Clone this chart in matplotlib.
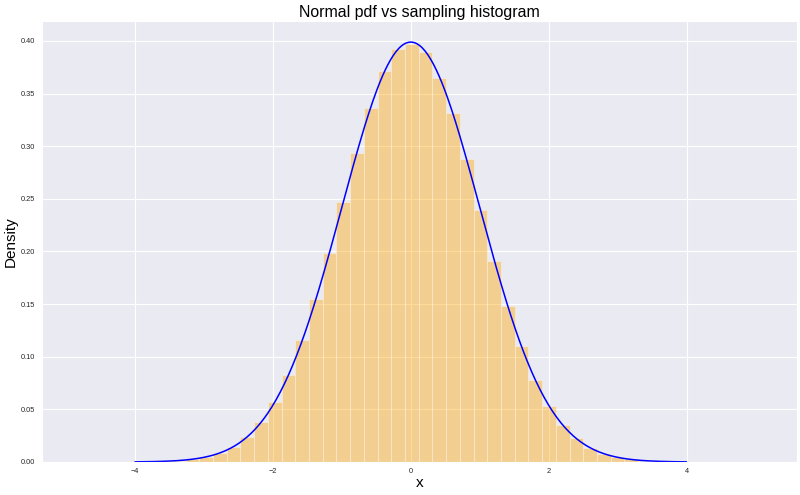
import numpy as np
import matplotlib
matplotlib.use("Agg")
import matplotlib.pyplot as plt
import seaborn as sns

# Histogram (density): 50 bins over the sample range
bin_lo = -4.86
bin_hi = 5.09
heights = [
    0.000005, 0.000012, 0.00003, 0.00007, 0.00015, 0.00033, 0.0007, 0.0014,
    0.0026, 0.0050, 0.0088, 0.0146, 0.0240, 0.0382, 0.0570, 0.0827,
    0.1160, 0.1550, 0.1990, 0.2468, 0.2940, 0.3366, 0.3712, 0.3924,
    0.3975, 0.3892, 0.3652, 0.3320, 0.2880, 0.2393, 0.1912, 0.1485,
    0.1098, 0.0780, 0.0536, 0.0352, 0.0228, 0.0136, 0.0079, 0.0044,
    0.0024, 0.0012, 0.0006, 0.0003, 0.00014, 0.00006, 0.000026, 0.00001,
    0.000004, 0.0000016,
]
# Normal pdf curve range
pdf_lo, pdf_hi = -4.0, 4.0
mu, sigma = 0.0, 1.0

sns.set_style("darkgrid")
plt.rcParams['font.family'] = ['Liberation Sans', 'DejaVu Sans']

fig = plt.figure(figsize=(8, 4.95), dpi=100)
ax = fig.add_axes([0.0525, 0.0667, 0.9435, 0.8909])

edges = np.linspace(bin_lo, bin_hi, len(heights) + 1)
ax.bar(edges[:-1], heights, width=np.diff(edges), align='edge',
       color='orange', alpha=0.4, edgecolor='white', linewidth=0.6)

xs = np.linspace(pdf_lo, pdf_hi, 400)
pdf = np.exp(-0.5 * ((xs - mu) / sigma) ** 2) / (sigma * np.sqrt(2 * np.pi))
ax.plot(xs, pdf, color='blue', linewidth=1.1)

ax.set_xlim(-5.35, 5.6)
ax.set_ylim(0, 0.419)
ax.set_xticks([-4, -2, 0, 2, 4])
yt = np.arange(0, 0.41, 0.05)
ax.set_yticks(yt)
ax.set_yticklabels([f"{v:.2f}" for v in yt])
ax.tick_params(axis='both', labelsize=5.3, length=0, colors='0.15')
ax.tick_params(axis='x', pad=4.3)
ax.tick_params(axis='y', pad=5.3)
ax.set_title("Normal pdf vs sampling histogram", fontsize=11.4, pad=3.0,
             color='black')
ax.set_xlabel("x", fontsize=11, labelpad=1, color='black')
ax.set_ylabel("Density", fontsize=11, labelpad=1.5, color='black')

fig.savefig("out.png", dpi=100)
